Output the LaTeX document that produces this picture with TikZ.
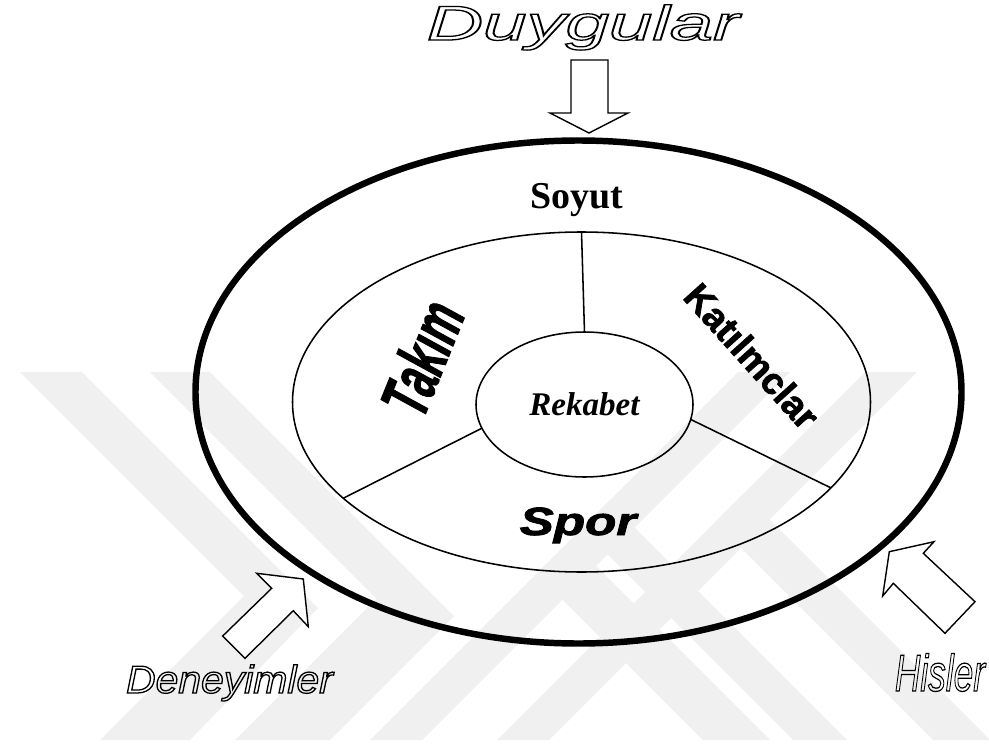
\documentclass[tikz,border=0pt]{standalone}
\usepackage{fontspec}
\usetikzlibrary{shapes.geometric}
\setmainfont{Liberation Serif}
\newfontfamily\arialfont{Liberation Sans}
\newcommand{\hollow}[1]{\special{pdf:literal direct 1 Tr 0.9 w}#1\special{pdf:literal direct 0 Tr}}
\definecolor{filigran}{gray}{0.94}

\tikzset{
  ring/.style={draw=black, ellipse, inner sep=0pt, outer sep=0pt},
  spoke/.style={draw=black, line width=1.1pt},
  blockarrow/.style={draw=black, fill=white, line width=1pt, line join=miter},
  outlined/.style={inner sep=0pt, anchor=base},
}

\begin{document}
\begin{tikzpicture}[scale=0.25]
\useasboundingbox (0,0) rectangle (98.9,-74.7);
\fill [filigran] (2,-37.2) -- (8.2,-37.2) -- (31.8,-60.8) -- (19,-74) -- (10,-74) -- (24.4,-59.6) -- cycle;
\fill [filigran] (15,-37.2) -- (21,-37.2) -- (45.4,-61.6) -- (33,-74) -- (23.5,-74) -- (37.65,-59.85) -- cycle;
\fill [filigran] (37,-74) -- (42.2,-74) -- (79,-37.2) -- (73.8,-37.2) -- cycle;
\fill [filigran] (49.7,-74) -- (54.9,-74) -- (91.7,-37.2) -- (86.5,-37.2) -- cycle;
\fill [filigran] (93.3,-74) -- (99,-74) -- (74.35,-49.35) -- (71.5,-52.2) -- cycle;
\fill [filigran] (79.3,-74) -- (84.7,-74) -- (60.85,-50.15) -- (58.15,-52.85) -- cycle;
\fill [filigran] (70.3,-74) -- (77,-74) -- (59.5,-56.5) -- (56.15,-59.85) -- cycle;
\node [ring, line width=4.6pt, minimum width=19.15cm, minimum height=12.575cm] (dis) at (57.85,-39.2) {};
\node [ring, line width=1.1pt, minimum width=14.45cm, minimum height=8.5cm] (orta) at (58.15,-40.2) {};
\node [ring, line width=1.1pt, minimum width=5.425cm, minimum height=3.625cm,
  font=\fontsize{23.5}{27}\selectfont\bfseries\itshape] (rekabet) at (58.45,-40.45) {Rekabet};
\draw [spoke] (rekabet.90) -- (orta.90);
\draw [spoke] (rekabet.193) -- (orta.202);
\draw [spoke] (rekabet.352) -- (orta.341);
\node [anchor=base, inner sep=0pt, font=\fontsize{27}{30}\selectfont\bfseries] (soyut) at (57.7,-20.8) {Soyut};
\node [inner sep=0pt, rotate=68, xscale=0.6,
  font=\arialfont\bfseries\itshape\addfontfeatures{FakeBold=2}\fontsize{48}{50}\selectfont] (takim) at (42.2,-35.8) {Takım};
\node [inner sep=0pt, rotate=-48,
  font=\arialfont\bfseries\addfontfeatures{FakeBold=2}\fontsize{26.5}{30}\selectfont] (katilim) at (75.2,-35.6) {Katılmclar};
\node [anchor=base, inner sep=0pt, xscale=1.3,
  font=\arialfont\bfseries\itshape\addfontfeatures{FakeBold=2}\fontsize{28}{30}\selectfont] (spor) at (57.8,-53.5) {Spor};
\node [outlined, xscale=1.6, font=\arialfont\itshape\fontsize{34.7}{36}\selectfont] (duygular) at (58.3,-4.0) {\hollow{Duygular}};
\node [outlined, xscale=1.05, font=\arialfont\itshape\fontsize{27.7}{30}\selectfont] (deneyim) at (22.95,-69.3) {\hollow{Deneyimler}};
\node [outlined, xscale=0.68, font=\arialfont\itshape\fontsize{36.9}{38}\selectfont] (hisler) at (94.0,-69.1) {\hollow{Hisler}};
\draw [blockarrow] (57.1,-6) -- (60.8,-6) -- (60.8,-11.3) -- (62.8,-11.3) -- (58.9,-13.3) -- (55,-11.3) -- (57.1,-11.3) -- cycle;
\draw [blockarrow] (30.33,-57.9) -- (30.83,-62.67) -- (29.33,-61.07) -- (24.5,-65.83) -- (22.27,-63.6) -- (27.17,-58.83) -- (25.67,-57.33) -- cycle;
\draw [blockarrow] (88.93,-55.17) -- (93.4,-54.17) -- (92.33,-55.33) -- (97.5,-60.17) -- (94.5,-63.33) -- (89.33,-58.33) -- (88.27,-59.6) -- cycle;
\end{tikzpicture}
\end{document}
